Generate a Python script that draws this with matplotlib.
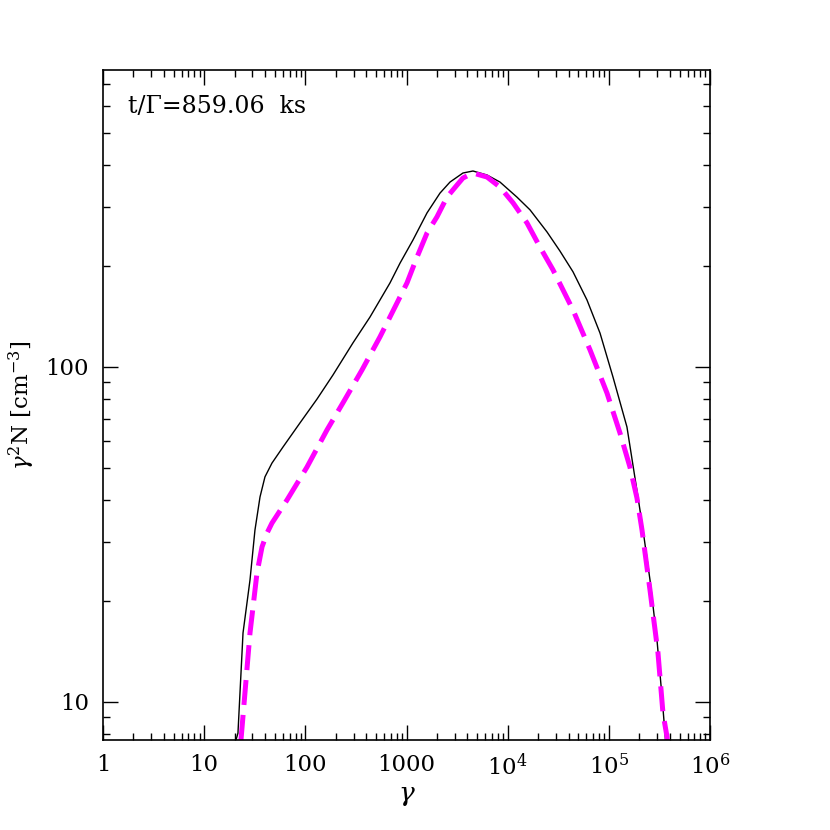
import numpy as np
import matplotlib
matplotlib.use("Agg")
import matplotlib.pyplot as plt

# values, stored as log10(gamma), log10(gamma^2 N)
solid_log_gamma = [1.315, 1.334, 1.384, 1.453, 1.502, 1.552, 1.601, 1.670, 1.779,
                   1.947, 2.115, 2.273, 2.471, 2.639, 2.837, 2.936, 3.064, 3.203,
                   3.331, 3.430, 3.558, 3.657, 3.796, 3.924, 4.092, 4.221, 4.389,
                   4.517, 4.646, 4.784, 4.913, 5.041, 5.179, 5.288, 5.338, 5.407,
                   5.476, 5.526, 5.555, 5.575]
solid_log_n = [0.887, 0.907, 1.206, 1.364, 1.513, 1.612, 1.672, 1.713, 1.761,
               1.833, 1.904, 1.976, 2.072, 2.149, 2.251, 2.310, 2.379, 2.460,
               2.519, 2.552, 2.579, 2.585, 2.573, 2.552, 2.507, 2.469, 2.403,
               2.346, 2.284, 2.200, 2.101, 1.970, 1.821, 1.612, 1.513, 1.364,
               1.185, 1.015, 0.907, 0.827]

dashed_log_gamma = [1.364, 1.453, 1.522, 1.572, 1.621, 1.670, 1.819, 2.016, 2.214,
                    2.372, 2.560, 2.738, 2.906, 3.005, 3.104, 3.203, 3.301, 3.400,
                    3.499, 3.558, 3.657, 3.796, 3.924, 4.053, 4.191, 4.319, 4.448,
                    4.646, 4.814, 4.982, 5.110, 5.209, 5.278, 5.328, 5.407,
                    5.486, 5.535, 5.575, 5.595]
dashed_log_n = [0.887, 1.206, 1.385, 1.463, 1.504, 1.534, 1.603, 1.701, 1.812,
                1.893, 1.991, 2.090, 2.191, 2.251, 2.328, 2.400, 2.448, 2.507,
                2.543, 2.564, 2.579, 2.567, 2.537, 2.490, 2.430, 2.358, 2.290,
                2.170, 2.051, 1.922, 1.803, 1.701, 1.609, 1.513, 1.334,
                1.146, 0.967, 0.896, 0.827]

x_ticks = [1, 10, 100, 1000, 1e4, 1e5, 1e6]
x_tick_labels = ["1", "10", "100", "1000", r"$10^4$", r"$10^5$", r"$10^6$"]
y_ticks = [10, 100]
y_tick_labels = ["10", "100"]

plt.rcParams["font.family"] = ["DejaVu Serif"]
plt.rcParams["mathtext.fontset"] = "dejavuserif"

fig = plt.figure(figsize=(8.3, 8.3), dpi=100)
ax = fig.add_axes([103 / 830, 90 / 830, 607 / 830, 670 / 830])

ax.plot(np.power(10.0, solid_log_gamma), np.power(10.0, solid_log_n),
        color="black", lw=1.0)
ax.plot(np.power(10.0, dashed_log_gamma), np.power(10.0, dashed_log_n),
        color="#ff00ff", lw=3.6, dashes=(5, 2))

ax.set_xscale("log")
ax.set_yscale("log")
ax.set_xlim(1, 1e6)
ax.set_ylim(7.7, 770)

ax.set_xticks(x_ticks)
ax.set_xticklabels(x_tick_labels)
ax.set_yticks(y_ticks)
ax.set_yticklabels(y_tick_labels)
ax.yaxis.set_minor_formatter(plt.NullFormatter())
ax.xaxis.set_minor_formatter(plt.NullFormatter())

ax.tick_params(which="both", direction="in", top=True, right=True, width=1.0,
               labelsize=16.5)
ax.tick_params(which="major", length=11, pad=10)
ax.tick_params(which="minor", length=5)
for s in ax.spines.values():
    s.set_linewidth(1.2)

ax.set_xlabel(r"$\gamma$", fontsize=19, labelpad=2)
ax.set_ylabel(r"$\gamma^2$N [cm$^{-3}$]", fontsize=16.5, labelpad=6)

ax.text(0.042, 0.945, "t/\u0393=859.06  ks", transform=ax.transAxes,
        fontsize=17, va="center", ha="left")

fig.savefig("out.png", dpi=100)
